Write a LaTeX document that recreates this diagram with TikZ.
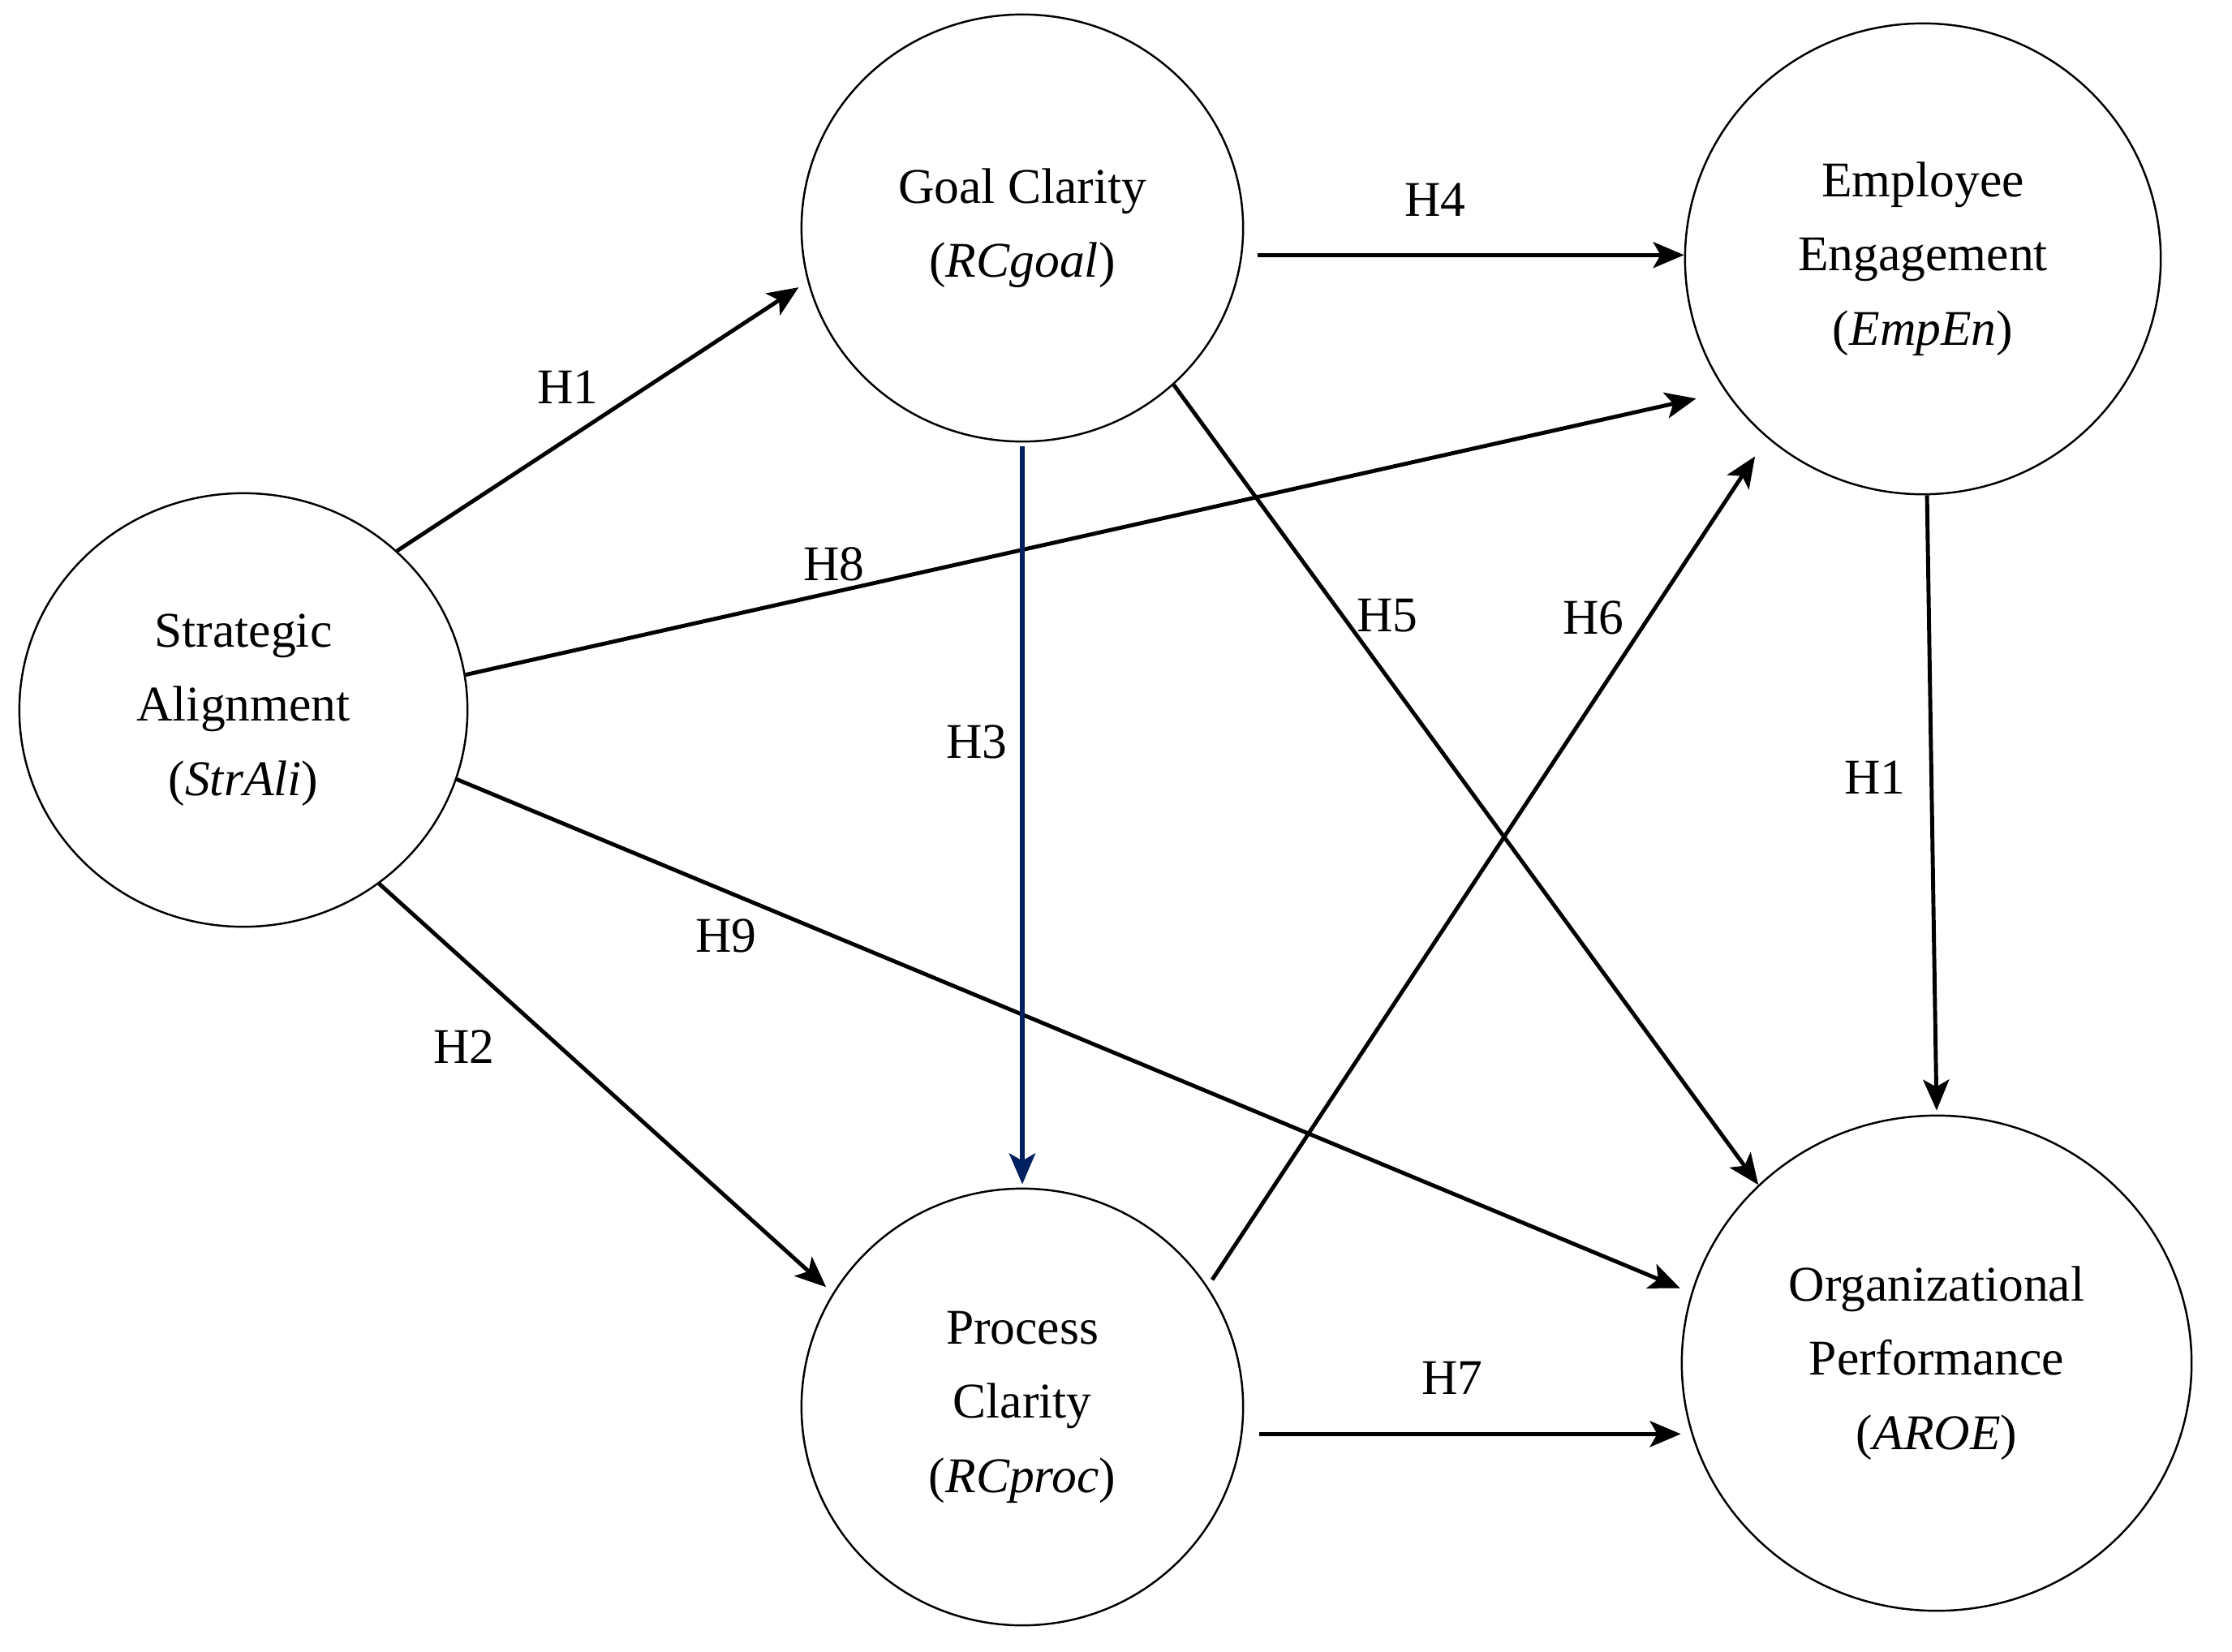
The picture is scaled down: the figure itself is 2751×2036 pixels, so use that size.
\documentclass[tikz,border=0pt]{standalone}
\usepackage{fontspec}
\setmainfont{Liberation Serif}
\usetikzlibrary{arrows.meta,shapes.geometric}
\definecolor{navy}{RGB}{0,32,96}
\begin{document}
\begin{tikzpicture}[x=0.01cm,y=-0.01cm,
  lat/.style={draw, ellipse, line width=0.7pt, inner sep=0pt, align=center,
    font=\fontsize{17.5}{26}\selectfont},
  arr/.style={-{Stealth[length=0.38cm,width=0.32cm,inset=0.09cm]}, line width=1.4pt},
  hyp/.style={font=\fontsize{17.5}{21}\selectfont, inner sep=0pt}]
\useasboundingbox[fill=white] (0,0) rectangle (2751,2036);

\node[lat, minimum width=5.52cm, minimum height=5.34cm] (sa) at (300,875) {Strategic\\Alignment\\(\textit{StrAli})};
\node[lat, minimum width=5.44cm, minimum height=5.26cm] (gc) at (1260,281) {Goal Clarity\\(\textit{RCgoal})};
\node[lat, minimum width=5.86cm, minimum height=5.80cm] (ee) at (2370,319) {Employee\\Engagement\\(\textit{EmpEn})};
\node[lat, minimum width=5.44cm, minimum height=5.38cm] (pc) at (1260,1734) {Process\\Clarity\\(\textit{RCproc})};
\node[lat, minimum width=6.28cm, minimum height=6.10cm] (op) at (2387,1680) {Organizational\\Performance\\(\textit{AROE})};

\draw[arr, shorten >=0.13cm] (sa.46.7) -- (gc.194);
\draw[arr, shorten <=0.19cm] (gc.-7.3) -- (gc.-7.3 -| ee.west);
\draw[arr, shorten >=0.37cm] (sa.9.7) -- (ee.214.2);
\draw[arr, shorten <=0.1cm, shorten >=0.27cm] (pc.33.5) -- (ee.229.7);
\draw[arr] (gc.-46.5) -- (op.135.3);
\draw[arr, shorten >=0.05cm] (ee.-89.6) -- (op.90);
\draw[arr, shorten >=0.11cm] (sa.-52.1) -- (pc.149.5);
\draw[arr, shorten >=0.15cm] (sa.-18.9) -- (op.164.3);
\draw[arr, shorten <=0.21cm] (pc.-7.8) -- (pc.-7.8 -| op.west);
\draw[arr, navy, line width=1.8pt, shorten <=0.05cm, shorten >=0.04cm] (gc.-90) -- (pc.90);

\node[hyp] (l1) at (700,477) {H1};
\node[hyp] (l4) at (1769,246) {H4};
\node[hyp] (l8) at (1028,695) {H8};
\node[hyp] (l3) at (1204,914) {H3};
\node[hyp] (l5) at (1710,759) {H5};
\node[hyp] (l6) at (1964,761) {H6};
\node[hyp] (l1b) at (2311,958) {H1};
\node[hyp] (l9) at (895,1153) {H9};
\node[hyp] (l2) at (572,1290) {H2};
\node[hyp] (l7) at (1790,1698) {H7};
\end{tikzpicture}
\end{document}
